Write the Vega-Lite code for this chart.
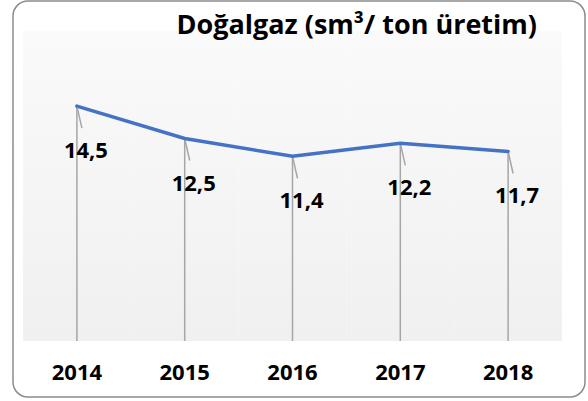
{
  "$schema": "https://vega.github.io/schema/vega-lite/v6.json",
  "width": 572,
  "height": 396,
  "autosize": {"type": "none"},
  "padding": {"left": 13, "top": 1, "right": 3, "bottom": 4},
  "background": "white",
  "title": {
    "text": "Doğalgaz (sm³/ ton üretim)",
    "font": "Open Sans",
    "fontSize": 27,
    "fontWeight": "bold",
    "color": "#000000",
    "anchor": "end",
    "frame": "group",
    "baseline": "alphabetic",
    "offset": -60,
    "dx": -48
  },
  "data": {
    "values": [
      {"year": "2014", "value": 14.5},
      {"year": "2015", "value": 12.5},
      {"year": "2016", "value": 11.4},
      {"year": "2017", "value": 12.2},
      {"year": "2018", "value": 11.7}
    ]
  },
  "encoding": {
    "x": {
      "field": "year",
      "type": "nominal",
      "sort": null,
      "scale": {"type": "band", "range": [10, 549], "paddingInner": 0, "paddingOuter": 0},
      "axis": {
        "orient": "bottom",
        "title": null,
        "domain": false,
        "ticks": false,
        "grid": false,
        "labelAngle": 0,
        "labelFont": "Open Sans",
        "labelFontSize": 22,
        "labelFontWeight": "bold",
        "labelColor": "#000000",
        "labelPadding": 0,
        "offset": -35
      }
    }
  },
  "layer": [
    {
      "mark": {
        "type": "rect",
        "fill": {
          "gradient": "linear",
          "x1": 0, "y1": 0, "x2": 0, "y2": 1,
          "stops": [
            {"offset": 0, "color": "#fafafa"},
            {"offset": 1, "color": "#f0f0f0"}
          ]
        },
        "strokeWidth": 0
      },
      "encoding": {
        "y": {"datum": 19.15, "type": "quantitative", "scale": {"domain": [-3.46, 20.99], "zero": false, "nice": false}, "axis": null},
        "y2": {"datum": 0}
      }
    },
    {
      "mark": {"type": "rule", "color": "#a6a6a6", "strokeWidth": 1.5},
      "encoding": {
        "y": {"field": "value", "type": "quantitative"},
        "y2": {"datum": 0}
      }
    },
    {
      "mark": {"type": "rule", "color": "#a6a6a6", "strokeWidth": 1.5, "x2Offset": 5, "y2Offset": 22},
      "encoding": {
        "y": {"field": "value", "type": "quantitative"},
        "y2": {"field": "value"},
        "x2": {"field": "year"}
      }
    },
    {
      "mark": {"type": "line", "color": "#4472C4", "strokeWidth": 3.5, "strokeCap": "round"},
      "encoding": {
        "y": {"field": "value", "type": "quantitative"}
      }
    },
    {
      "mark": {
        "type": "text",
        "font": "Open Sans",
        "fontSize": 22,
        "fontWeight": "bold",
        "color": "#000000",
        "dx": 9,
        "dy": 45,
        "baseline": "middle",
        "align": "center"
      },
      "encoding": {
        "y": {"field": "value", "type": "quantitative"},
        "text": {"field": "value", "type": "quantitative", "format": ".1f"}
      }
    }
  ],
  "config": {
    "locale": {
      "number": {"decimal": ",", "thousands": ".", "grouping": [3], "currency": ["", " TL"]}
    },
    "view": {"stroke": "#8c8c8c", "strokeWidth": 1.5, "cornerRadius": 15, "fill": "white"}
  }
}
